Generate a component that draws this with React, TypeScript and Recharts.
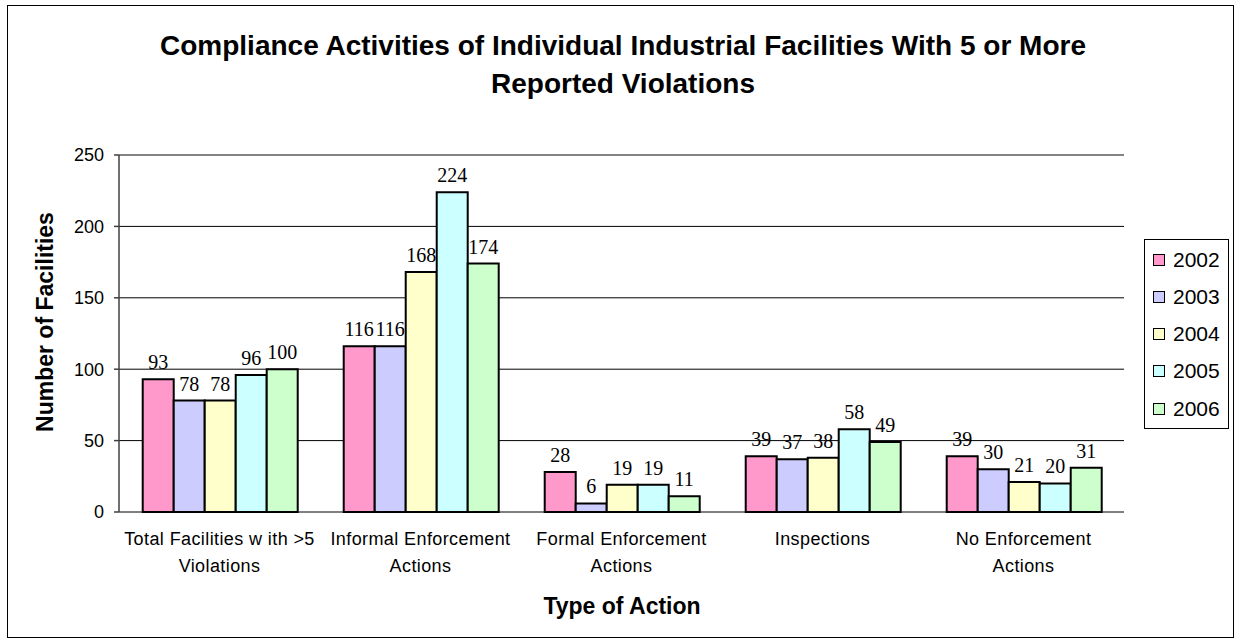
import React from 'react';
import {
    BarChart,
    Bar,
    XAxis,
    YAxis,
    CartesianGrid,
    LabelList,
    ReferenceLine,
} from 'recharts';

const SANS = "Arial, 'Liberation Sans', sans-serif";
const SERIF = "'Times New Roman', 'Liberation Serif', serif";

// categories, split the way the original wraps them
const categories = [
    'Total Facilities w ith >5 Violations',
    'Informal Enforcement Actions',
    'Formal Enforcement Actions',
    'Inspections',
    'No Enforcement Actions',
];
const categoryLines = [
    ['Total Facilities w ith >5', 'Violations'],
    ['Informal Enforcement', 'Actions'],
    ['Formal Enforcement', 'Actions'],
    ['Inspections'],
    ['No Enforcement', 'Actions'],
];

const years = ['2002', '2003', '2004', '2005', '2006'];
const colors = ['#FF99CC', '#CCCCFF', '#FFFFCC', '#CCFFFF', '#CCFFCC'];

const v2002 = [93, 116, 28, 39, 39];
const v2003 = [78, 116, 6, 37, 30];
const v2004 = [78, 168, 19, 38, 21];
const v2005 = [96, 224, 19, 58, 20];
const v2006 = [100, 174, 11, 49, 31];
const seriesValues = [v2002, v2003, v2004, v2005, v2006];

const yTicks = [0, 50, 100, 150, 200, 250];
const boundaryTicks = [0, 1, 2, 3, 4, 5];

const data = categories.map((name, i) => {
    const row: Record<string, string | number> = { name };
    years.forEach((y, j) => {
        row[y] = seriesValues[j][i];
    });
    return row;
});

function CategoryTick(props: any) {
    const { x, y, index } = props;
    const lines = categoryLines[index] || [];
    return (
        <text
            x={x}
            y={y}
            textAnchor="middle"
            fontFamily={SANS}
            fontSize={18}
            letterSpacing={0.4}
            fill="#000"
        >
            {lines.map((line, i) => (
                <tspan key={i} x={x} y={y + 33 + i * 26.5}>
                    {line}
                </tspan>
            ))}
        </text>
    );
}

export default function App() {
    return (
        <div
            style={{
                position: 'absolute',
                left: 0,
                top: 0,
                width: 1236,
                height: 643,
                background: '#fff',
                fontFamily: SANS,
                color: '#000',
                overflow: 'hidden',
            }}
        >
            {/* outer frame */}
            <div
                style={{
                    position: 'absolute',
                    left: 7,
                    top: 5,
                    width: 1225,
                    height: 631,
                    border: '1px solid #000',
                }}
            />

            <div
                style={{
                    position: 'absolute',
                    left: 0,
                    top: 27,
                    width: 1246,
                    textAlign: 'center',
                    fontSize: 28,
                    fontWeight: 'bold',
                    lineHeight: '38px',
                    whiteSpace: 'nowrap',
                }}
            >
                Compliance Activities of Individual Industrial Facilities With 5 or More
                <br />
                Reported Violations
            </div>

            <BarChart
                width={1236}
                height={643}
                data={data}
                margin={{ top: 155, right: 112, bottom: 71, left: 0 }}
                barCategoryGap="11.8%"
                barGap={0}
                style={{ position: 'absolute', left: 0, top: 0 }}
            >
                <CartesianGrid vertical={false} stroke="#000" strokeWidth={1} />
                <XAxis
                    xAxisId="b"
                    type="number"
                    domain={[0, 5]}
                    ticks={boundaryTicks}
                    allowDataOverflow
                    height={0}
                    tick={false}
                    tickSize={6}
                    axisLine={{ stroke: '#404040', strokeWidth: 1.5 }}
                    tickLine={{ stroke: '#404040', strokeWidth: 1.5 }}
                />
                <XAxis
                    xAxisId="c"
                    dataKey="name"
                    interval={0}
                    height={60}
                    axisLine={false}
                    tickLine={false}
                    tickSize={0}
                    tickMargin={0}
                    tick={<CategoryTick />}
                />
                <YAxis
                    domain={[0, 250]}
                    ticks={yTicks}
                    width={119}
                    tickSize={5}
                    tickMargin={10}
                    axisLine={{ stroke: '#404040', strokeWidth: 1.5 }}
                    tickLine={{ stroke: '#404040', strokeWidth: 1.5 }}
                    tick={{ fill: '#000', fontSize: 18, fontFamily: SANS }}
                />
                <YAxis
                    yAxisId="r"
                    orientation="right"
                    domain={[0, 250]}
                    width={0}
                    tick={false}
                    tickLine={false}
                    axisLine={{ stroke: '#888' }}
                />
                <ReferenceLine y={250} stroke="#888" />
                {years.map((y, j) => (
                    <Bar
                        key={y}
                        xAxisId="c"
                        dataKey={y}
                        fill={colors[j]}
                        stroke="#000"
                        strokeWidth={2}
                        isAnimationActive={false}
                    >
                        <LabelList
                            dataKey={y}
                            position="top"
                            offset={10}
                            fill="#000"
                            fontSize={20}
                            fontFamily={SERIF}
                        />
                    </Bar>
                ))}
            </BarChart>

            {/* y axis title */}
            <div
                style={{
                    position: 'absolute',
                    left: 45 - 150,
                    top: 322 - 15,
                    width: 300,
                    height: 30,
                    lineHeight: '30px',
                    textAlign: 'center',
                    fontSize: 23,
                    fontWeight: 'bold',
                    transform: 'rotate(-90deg)',
                    whiteSpace: 'nowrap',
                }}
            >
                Number of Facilities
            </div>

            {/* x axis title */}
            <div
                style={{
                    position: 'absolute',
                    left: 622 - 150,
                    top: 591,
                    width: 300,
                    lineHeight: '30px',
                    textAlign: 'center',
                    fontSize: 23,
                    fontWeight: 'bold',
                }}
            >
                Type of Action
            </div>

            {/* legend */}
            <div
                style={{
                    position: 'absolute',
                    left: 1144,
                    top: 239,
                    width: 83,
                    height: 187,
                    border: '1px solid #000',
                    paddingTop: 1,
                    boxSizing: 'content-box',
                }}
            >
                {years.map((y, j) => (
                    <div
                        key={y}
                        style={{
                            height: 37.25,
                            display: 'flex',
                            alignItems: 'center',
                            paddingLeft: 8,
                        }}
                    >
                        <span
                            style={{
                                display: 'inline-block',
                                width: 10,
                                height: 10,
                                background: colors[j],
                                border: '1px solid #000',
                                marginRight: 8,
                            }}
                        />
                        <span style={{ fontSize: 21 }}>{y}</span>
                    </div>
                ))}
            </div>
        </div>
    );
}
